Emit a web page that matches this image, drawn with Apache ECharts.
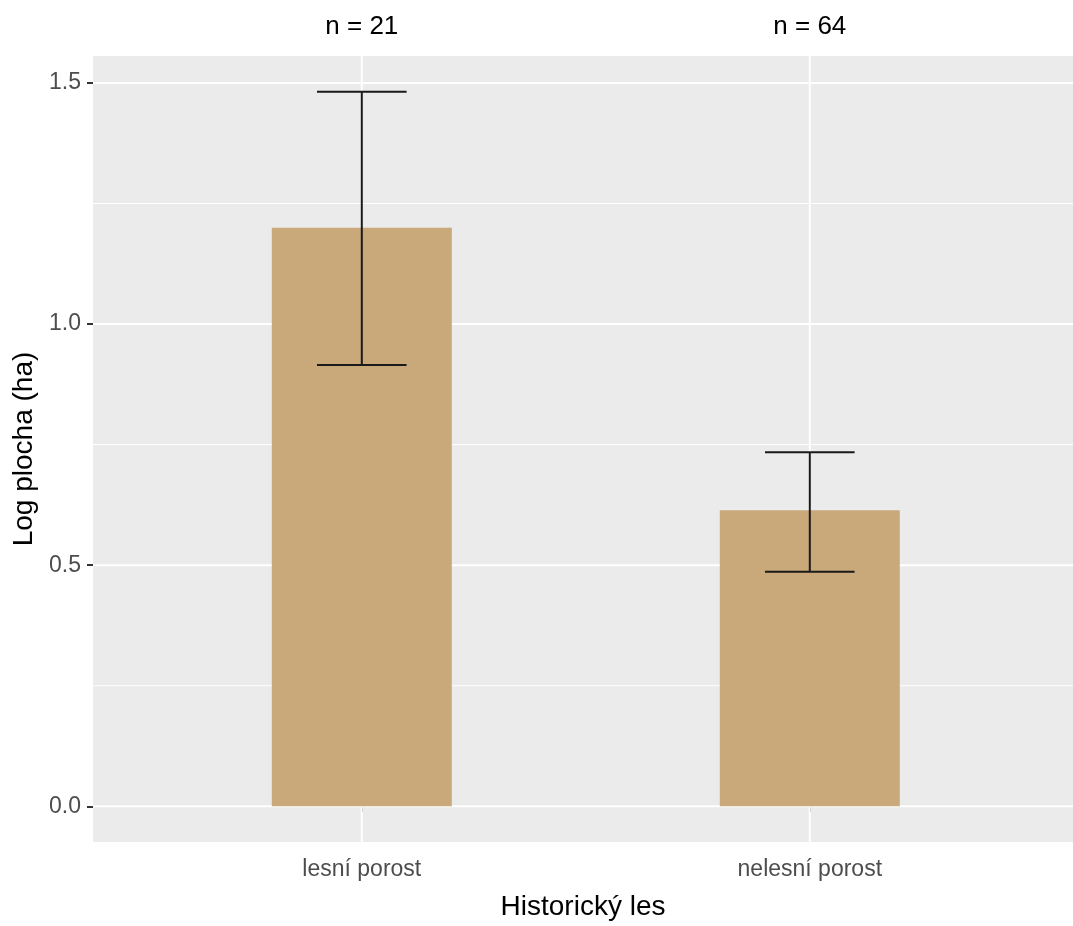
<!DOCTYPE html>
<html>
<head>
<meta charset="utf-8">
<script src="https://cdn.jsdelivr.net/npm/echarts@6/dist/echarts.min.js"></script>
<style>html,body{margin:0;padding:0;background:#fff}#c{width:1073px;height:926px}</style>
</head>
<body>
<div id="c"></div>
<script>
// ---- data ----
const categories = ['lesní porost', 'nelesní porost'];
const means = [1.200, 0.614];
const lower = [0.915, 0.4865];
const upper = [1.482, 0.734];
const nLabels = ['n = 21', 'n = 64'];
const yMajorTicks = [0, 0.5, 1.0, 1.5];
const yMinorTicks = [0.25, 0.75, 1.25];
const xPositions = [1, 2];

const Y_MIN = -0.0741, Y_MAX = 1.556;
const X_MIN = 0.4, X_MAX = 2.5875;

const chart = echarts.init(document.getElementById('c'), null, {renderer: 'canvas'});
const font = "'Liberation Sans', Arial, sans-serif";

const gridData = [];
yMajorTicks.forEach(v => gridData.push({value: [0, v, 2]}));
yMinorTicks.forEach(v => gridData.push({value: [0, v, 1]}));
xPositions.forEach(v => gridData.push({value: [1, v, 2]}));

chart.setOption({
  animation: false,
  backgroundColor: '#ffffff',
  grid: {left: 93, right: 0, top: 56, bottom: 82, show: true, backgroundColor: '#ebebeb', borderWidth: 0},
  xAxis: {
    type: 'value', min: X_MIN, max: X_MAX,
    name: 'Historický les', nameLocation: 'middle', nameGap: 51,
    nameTextStyle: {fontFamily: font, fontSize: 28, color: '#000'},
    axisLine: {show: false},
    axisTick: {show: true, customValues: xPositions, length: 6, lineStyle: {color: '#333', width: 2}},
    axisLabel: {customValues: xPositions, formatter: v => categories[Math.round(v) - 1] || '',
      fontFamily: font, fontSize: 23, color: '#4d4d4d', margin: 16},
    splitLine: {show: false}
  },
  yAxis: {
    type: 'value', min: Y_MIN, max: Y_MAX,
    name: 'Log plocha (ha)', nameLocation: 'middle', nameGap: 53,
    nameTextStyle: {fontFamily: font, fontSize: 28, color: '#000'},
    axisLine: {show: false},
    axisTick: {show: true, customValues: yMajorTicks, length: 6, lineStyle: {color: '#333', width: 2}},
    axisLabel: {customValues: yMajorTicks, formatter: v => v.toFixed(1),
      fontFamily: font, fontSize: 23, color: '#4d4d4d', margin: 12},
    splitLine: {show: false}
  },
  series: [
    {
      type: 'custom', z: 1, silent: true, clip: true,
      data: gridData,
      renderItem: (params, api) => {
        const dir = api.value(0), v = api.value(1), w = api.value(2);
        let p1, p2;
        if (dir === 0) { p1 = api.coord([X_MIN, v]); p2 = api.coord([X_MAX, v]); }
        else { p1 = api.coord([v, Y_MIN]); p2 = api.coord([v, Y_MAX]); }
        return {type: 'line', shape: {x1: p1[0], y1: p1[1], x2: p2[0], y2: p2[1]},
          style: {stroke: '#ffffff', lineWidth: w}};
      }
    },
    {
      type: 'bar', z: 2, barWidth: 180,
      data: xPositions.map((x, i) => [x, means[i]]),
      itemStyle: {color: '#c9a87a'}
    },
    {
      type: 'custom', z: 3, silent: true, clip: false,
      data: xPositions.map((x, i) => [x, lower[i], upper[i]]),
      renderItem: (params, api) => {
        const x = api.value(0), lo = api.value(1), hi = api.value(2);
        const pl = api.coord([x, lo]), ph = api.coord([x, hi]);
        const half = api.size([0.1, 0])[0];
        const st = {stroke: '#1a1a1a', lineWidth: 2};
        return {type: 'group', children: [
          {type: 'line', shape: {x1: pl[0], y1: pl[1], x2: ph[0], y2: ph[1]}, style: st},
          {type: 'line', shape: {x1: pl[0] - half, y1: pl[1], x2: pl[0] + half, y2: pl[1]}, style: st},
          {type: 'line', shape: {x1: ph[0] - half, y1: ph[1], x2: ph[0] + half, y2: ph[1]}, style: st}
        ]};
      }
    },
    {
      type: 'custom', z: 4, silent: true, clip: false,
      data: xPositions.map((x, i) => [x, Y_MAX]),
      renderItem: (params, api) => {
        const p = api.coord([api.value(0), api.value(1)]);
        return {type: 'text', x: p[0], y: p[1] - 29,
          style: {text: nLabels[params.dataIndex], fontFamily: font, fontSize: 26, fill: '#000',
            align: 'center', verticalAlign: 'middle'}};
      }
    }
  ]
});
</script>
</body>
</html>
